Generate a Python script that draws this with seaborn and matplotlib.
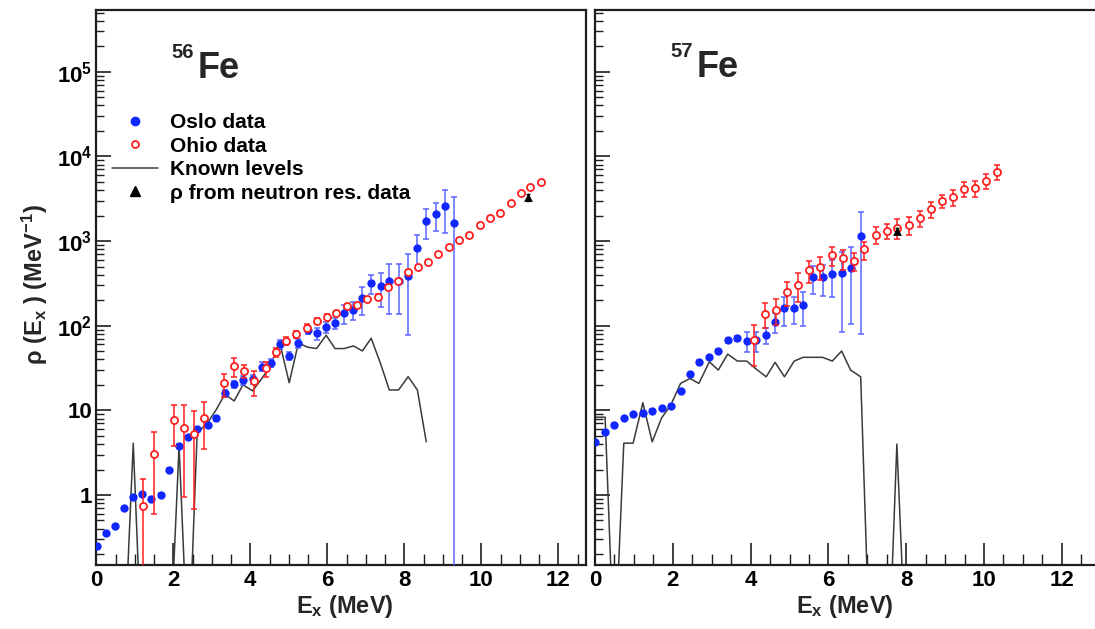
import numpy as np
import matplotlib
matplotlib.use("Agg")
import matplotlib.pyplot as plt
import seaborn as sns
from matplotlib.ticker import FixedLocator, FuncFormatter, LogLocator, NullFormatter, MultipleLocator
from matplotlib.lines import Line2D

# ---------------- 56Fe data ----------------
fe56_oslo_x = [0.01, 0.24, 0.49, 0.71, 0.96, 1.19, 1.43, 1.67, 1.90, 2.15, 2.39, 2.62, 2.89, 3.11,
               3.34, 3.58, 3.81, 4.06, 4.30, 4.53, 4.76, 5.01, 5.25, 5.49, 5.72, 5.97, 6.20, 6.44,
               6.68, 6.91, 7.14, 7.39, 7.61, 7.85, 8.10, 8.34, 8.57, 8.82, 9.06, 9.29]
fe56_oslo_y = [0.25, 0.355, 0.425, 0.70, 0.95, 1.02, 0.89, 1.0, 1.97, 3.78, 4.78, 5.95, 6.73, 8.08,
               15.9, 20.5, 22.8, 23.3, 32.8, 36.5, 60.5, 43.9, 62.5, 89, 81, 97, 108, 140,
               154, 210, 317, 295, 337, 337, 387, 835, 1725, 2070, 2600, 1625]
fe56_oslo_err = [0.01, 0.015, 0.02, 0.03, 0.04, 0.05, 0.05, 0.05, 0.1, 0.2, 0.25, 0.3, 0.35, 0.5,
                 1.5, 2, 3, 3, 4, 4, 7, 5, 8, 10, 13, 15, 16, 35,
                 38, 78, 83, 128, 200, 200, 310, 350, 680, 740, 1360, 1700]

fe56_ohio_x = [1.22, 1.50, 2.02, 2.29, 2.55, 2.81, 3.32, 3.58, 3.84, 4.10, 4.41, 4.66, 4.92, 5.18,
               5.46, 5.72, 5.98, 6.23, 6.50, 6.76, 7.02, 7.31, 7.57, 7.83, 8.10, 8.36, 8.62, 8.88,
               9.17, 9.43, 9.69, 9.97, 10.23, 10.49, 10.76, 11.02, 11.26, 11.54]
fe56_ohio_y = [0.75, 3.09, 7.7, 6.25, 5.28, 8.08, 20.8, 33.3, 29.1, 22.2, 31.4, 48.4, 66.5, 79.3,
               95, 114, 128, 141, 171, 176, 208, 221, 290, 337, 436, 499, 571, 698,
               858, 1030, 1178, 1550, 1890, 2160, 2790, 3650, 4300, 4930]
fe56_ohio_err = [0.8, 2.5, 3.9, 5.3, 4.6, 4.6, 6.3, 8.7, 5, 7.3, 6.3, 6, 8, 8,
                 9, 9, 9, 10, 11, 11, 12, 13, 15, 18, 22, 25, 28, 33,
                 40, 48, 55, 70, 85, 100, 125, 160, 190, 220]

fe56_levels_x = fe56_oslo_x[:37]
fe56_levels_y = [0, 0, 0, 0, 4.1, 0, 0, 0, 0, 3.8, 0, 5.4, 7.1, 10.1,
                 15.5, 12.9, 20, 17, 23.8, 34, 64.5, 21.2, 62.5, 55.7, 53.7, 77.2, 53.7, 53.7,
                 57.7, 50.3, 71, 35, 17.4, 17.4, 25, 17.4, 4.25]

fe56_nres_x = [11.21]
fe56_nres_y = [3300]
fe56_nres_err = [300]

# ---------------- 57Fe data ----------------
fe57_oslo_x = [0.00, 0.26, 0.50, 0.74, 0.98, 1.23, 1.47, 1.71, 1.95, 2.20, 2.44, 2.67, 2.94, 3.17,
               3.41, 3.66, 3.90, 4.14, 4.40, 4.63, 4.87, 5.12, 5.35, 5.61, 5.85, 6.10, 6.34, 6.57, 6.83]
fe57_oslo_y = [4.2, 5.55, 6.8, 8.15, 9.0, 9.3, 9.9, 10.7, 11.3, 16.9, 26.6, 37.4, 42.3, 50.2,
               67.3, 70.8, 66.4, 67.3, 77.2, 111, 160, 163, 175, 372, 372, 406, 415, 475, 1150]
fe57_oslo_err = [0.15, 0.2, 0.25, 0.3, 0.3, 0.35, 0.4, 0.4, 0.45, 0.7, 1.1, 1.5, 2, 2.5,
                 4, 5, 18, 18, 16, 30, 60, 57, 76, 135, 150, 185, 330, 370, 1070]

fe57_ohio_x = [4.09, 4.37, 4.65, 4.93, 5.23, 5.51, 5.78, 6.08, 6.38, 6.66, 6.92, 7.22, 7.50, 7.77,
               8.07, 8.35, 8.64, 8.93, 9.21, 9.49, 9.77, 10.05, 10.34]
fe57_ohio_y = [67.3, 139, 153, 250, 306, 452, 495, 682, 623, 580, 795, 1190, 1315, 1440,
               1550, 1860, 2375, 2970, 3290, 4120, 4200, 5150, 6590]
fe57_ohio_err = [34, 45, 52, 78, 117, 133, 150, 170, 170, 135, 190, 270, 270, 380,
                 370, 380, 500, 520, 700, 850, 900, 1000, 1400]

fe57_levels_x = fe57_oslo_x + [7.07, 7.31, 7.55, 7.76, 8.00]
fe57_levels_y = [8.3, 8.3, 0, 4.1, 4.1, 12.3, 4.25, 8.1, 11.6, 20.8, 23.8, 20.8, 37.5, 29.9,
                 46.2, 38.2, 38.2, 30.8, 24.9, 36.9, 24.9, 38.2, 42.3, 42.3, 42.3, 38.2, 50.2, 29.9, 24.9,
                 0, 0, 0, 4.0, 0]

fe57_nres_x = [7.76]
fe57_nres_y = [1315]
fe57_nres_err = [120]

legend_labels = ["Oslo data", "Ohio data", "Known levels", "\u03c1 from neutron res. data"]
panel_masses = ["56", "57"]

# ---------------- style ----------------
sns.set_theme(style="white")
plt.rcParams["font.family"] = ["Liberation Sans", "DejaVu Sans"]
plt.rcParams["font.weight"] = "bold"
plt.rcParams["mathtext.fontset"] = "custom"
plt.rcParams["mathtext.rm"] = "Liberation Sans:bold"
plt.rcParams["mathtext.bf"] = "Liberation Sans:bold"
plt.rcParams["mathtext.it"] = "Liberation Sans:bold"
plt.rcParams["mathtext.default"] = "bf"

BLUE = "#1028ff"
BLUE_ERR = "#5a66ff"
RED = "#ff1f1f"
LINE = "#3a3a3a"
FRAME = "#1e1e1e"

W, H = 1095, 629
fig = plt.figure(figsize=(W / 100, H / 100), dpi=100)
fig.patch.set_facecolor("white")


def px_axes(x0, y0, x1, y1):
    return fig.add_axes([x0 / W, 1 - y1 / H, (x1 - x0) / W, (y1 - y0) / H])


axL = px_axes(96.3, 10, 586, 565)
axR = px_axes(595, 10, 1100, 565)

YLIM = (0.149, 5.36e5)


def draw_panel(ax, lev_x, lev_y, os_x, os_y, os_e, oh_x, oh_y, oh_e, nr_x, nr_y, nr_e, xmax):
    ax.set_yscale("log")
    ax.set_xlim(0, xmax)
    ax.set_ylim(*YLIM)
    lev = np.maximum(np.asarray(lev_y, float), 0.01)
    sns.lineplot(x=lev_x, y=lev, ax=ax, color=LINE, lw=1.1, sort=False, estimator=None, zorder=2)
    ax.errorbar(os_x, os_y, yerr=os_e, fmt="none", ecolor=BLUE_ERR, elinewidth=1.1,
                capsize=2, capthick=1.1, zorder=3)
    sns.scatterplot(x=os_x, y=os_y, ax=ax, color=BLUE, s=36, marker="o", linewidth=0, zorder=4)
    ax.errorbar(oh_x, oh_y, yerr=oh_e, fmt="none", ecolor=RED, elinewidth=1.1,
                capsize=2, capthick=1.1, zorder=5)
    sns.scatterplot(x=oh_x, y=oh_y, ax=ax, s=26, marker="o", zorder=6)
    coll = ax.collections[-1]
    coll.set_facecolor("white")
    coll.set_edgecolor(RED)
    coll.set_linewidth(1.3)
    ax.errorbar(nr_x, nr_y, yerr=nr_e, fmt="none", ecolor="black", elinewidth=1.0,
                capsize=1.5, zorder=7)
    sns.scatterplot(x=nr_x, y=nr_y, ax=ax, color="black", s=40, marker="^", linewidth=0, zorder=8)

    ax.set_xlabel("")
    ax.set_ylabel("")
    ax.xaxis.set_major_locator(MultipleLocator(2))
    ax.xaxis.set_minor_locator(MultipleLocator(0.5))
    ax.yaxis.set_major_locator(FixedLocator([1, 10, 1e2, 1e3, 1e4, 1e5]))
    ax.yaxis.set_minor_locator(LogLocator(base=10, subs=np.arange(2, 10)))
    ax.yaxis.set_minor_formatter(NullFormatter())
    ax.tick_params(axis="x", which="major", direction="in", length=16, width=1.2, color=FRAME,
                   labelcolor="black", labelsize=16, pad=3.5, bottom=True, top=False)
    ax.tick_params(axis="x", which="minor", direction="in", length=8, width=1.0, color=FRAME,
                   bottom=True, top=False)
    ax.tick_params(axis="y", which="major", direction="in", length=11, width=1.2, color=FRAME,
                   labelcolor="black", labelsize=16, pad=3, left=True, right=False)
    ax.tick_params(axis="y", which="minor", direction="in", length=5.5, width=1.0, color=FRAME,
                   left=True, right=False)
    for lab in ax.get_xticklabels() + ax.get_yticklabels():
        lab.set_fontweight("bold")
    for sp in ax.spines.values():
        sp.set_color(FRAME)
        sp.set_linewidth(1.6)
        sp.set_visible(True)
    ax.set_facecolor("white")


draw_panel(axL, fe56_levels_x, fe56_levels_y, fe56_oslo_x, fe56_oslo_y, fe56_oslo_err,
           fe56_ohio_x, fe56_ohio_y, fe56_ohio_err, fe56_nres_x, fe56_nres_y, fe56_nres_err,
           (586 - 96.3) / 38.5)
draw_panel(axR, fe57_levels_x, fe57_levels_y, fe57_oslo_x, fe57_oslo_y, fe57_oslo_err,
           fe57_ohio_x, fe57_ohio_y, fe57_ohio_err, fe57_nres_x, fe57_nres_y, fe57_nres_err,
           (1100 - 595) / 38.9)


def yfmt(v, pos):
    e = int(round(np.log10(v)))
    if e == 0:
        return "1"
    if e == 1:
        return "10"
    return r"$\mathbf{10^{%d}}$" % e


axL.yaxis.set_major_formatter(FuncFormatter(yfmt))
axL.xaxis.set_major_formatter(FuncFormatter(lambda v, p: "%d" % v))
axR.xaxis.set_major_formatter(FuncFormatter(lambda v, p: "%d" % v))
axR.tick_params(axis="y", which="both", labelleft=False)

# legend
handles = [
    Line2D([], [], ls="none", marker="o", ms=6, mfc=BLUE, mec=BLUE),
    Line2D([], [], ls="none", marker="o", ms=5, mfc="white", mec=RED, mew=1.3),
    Line2D([], [], color=LINE, lw=1.1),
    Line2D([], [], ls="none", marker="^", ms=6.5, mfc="black", mec="black"),
]
leg = axL.legend(handles, legend_labels, loc="upper left",
                 bbox_to_anchor=((112 - 96.3) / 489.7, 1 - (113 - 10) / 555),
                 frameon=False, fontsize=15, handlelength=2.2, handletextpad=0.6,
                 labelspacing=0.22, borderpad=0, borderaxespad=0)
for t in leg.get_texts():
    t.set_fontweight("bold")
    t.set_color("black")

# isotope labels
for (xm, xf, bm, bf), mass in zip([(171, 198, 58, 78), (670, 697, 57, 77)], panel_masses):
    fig.text(xm / W, 1 - bm / H, mass, fontsize=14.5, fontweight="bold", ha="left", va="baseline")
    fig.text(xf / W, 1 - bf / H, "Fe", fontsize=26, fontweight="bold", ha="left", va="baseline")

# axis titles
fig.text(35 / W, 1 - 285 / H, r"$\mathbf{\rho}$ (E$_\mathbf{x}$ ) (MeV$^\mathbf{-1}$)",
         rotation=90, ha="center", va="center", fontsize=17, fontweight="bold")
for cx in (345, 845):
    fig.text(cx / W, 1 - 607 / H, r"E$_\mathbf{x}$ (MeV)", ha="center", va="center",
             fontsize=17, fontweight="bold")

fig.savefig("out.png", dpi=100, facecolor="white")
